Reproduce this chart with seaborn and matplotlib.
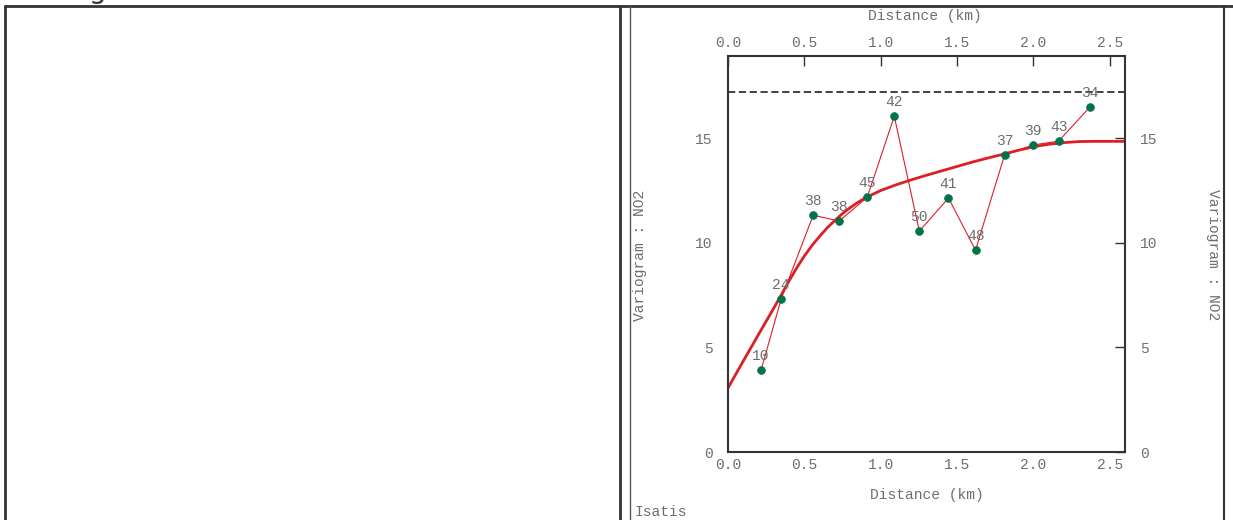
import numpy as np
import pandas as pd
import matplotlib
matplotlib.use("Agg")
import matplotlib.pyplot as plt
from matplotlib.lines import Line2D
import seaborn as sns

dist = [0.217, 0.348, 0.558, 0.728, 0.912, 1.089, 1.253, 1.444, 1.621, 1.811, 1.995, 2.165, 2.369]
gamma = [3.92, 7.31, 11.32, 11.04, 12.18, 16.05, 10.56, 12.14, 9.65, 14.19, 14.67, 14.86, 16.48]
npairs = [10, 24, 38, 38, 45, 42, 50, 41, 48, 37, 39, 43, 34]

# Fitted model curve
model_d = [0.0, 0.1, 0.2, 0.3, 0.35, 0.4, 0.45, 0.5, 0.55, 0.6, 0.65, 0.7, 0.75, 0.8, 0.85, 0.9,
           1.0, 1.1, 1.2, 1.3, 1.4, 1.5, 1.6, 1.7, 1.8, 1.9, 2.0, 2.1, 2.2, 2.3, 2.4, 2.5, 2.6]
model_g = [3.06, 4.35, 5.62, 6.88, 7.52, 8.18, 8.8, 9.37, 9.87, 10.31, 10.72, 11.07, 11.4, 11.68,
           11.93, 12.15, 12.5, 12.77, 13.01, 13.23, 13.44, 13.65, 13.86, 14.05, 14.23, 14.42,
           14.59, 14.71, 14.79, 14.84, 14.85, 14.85, 14.85]

variance = 17.2

xticks = [0.0, 0.5, 1.0, 1.5, 2.0, 2.5]
yticks = [0, 5, 10, 15]

exp_df = pd.DataFrame({"dist": dist, "gamma": gamma, "n": npairs})
mod_df = pd.DataFrame({"dist": model_d, "gamma": model_g})

sns.set_style("white")
plt.rcParams["font.family"] = ["Liberation Mono", "DejaVu Sans Mono"]

W, H = 1233, 520
fig = plt.figure(figsize=(W / 100, H / 100), dpi=100)
ax = fig.add_axes([728 / W, 1 - 452 / H, (1125 - 728) / W, (452 - 56) / H])

txt = "#6e6e6e"
red = "#dc1f26"
green = "#00734a"
dark = "#333333"

sns.lineplot(data=mod_df, x="dist", y="gamma", ax=ax, color=red, linewidth=2.0, sort=False)
sns.lineplot(data=exp_df, x="dist", y="gamma", ax=ax, color=red, linewidth=0.8, sort=False)
sns.scatterplot(data=exp_df, x="dist", y="gamma", ax=ax, color=green, s=32, edgecolor=green, zorder=5)
ax.axhline(variance, color=dark, linestyle=(0, (4, 2)), linewidth=1.3)

for d, g, n in zip(dist, gamma, npairs):
    ax.annotate(str(n), (d, g), xytext=(0, 5), textcoords="offset points",
                ha="center", va="bottom", fontsize=10.5, color=txt)

ax.set_xlim(0, 2.6)
ax.set_ylim(0, 18.93)
ax.set_xticks(xticks)
ax.set_yticks(yticks)
ax.set_xticklabels([f"{t:.1f}" for t in xticks])
ax.set_yticklabels([str(t) for t in yticks])

ax.tick_params(direction="in", length=7, width=1, color=dark, labelsize=10.5, labelcolor=txt,
               top=True, right=True, labeltop=True, labelright=True)
ax.tick_params(axis="x", pad=4)
ax.tick_params(axis="y", pad=11)

for s in ax.spines.values():
    s.set_color(dark)
    s.set_linewidth(1.5)

ax.set_xlabel("Distance (km)", fontsize=10.5, color=txt, labelpad=12)
ax.set_ylabel("")
ax.grid(False)

# top x label and y labels at both sides
fig.text(925 / W, 1 - 16 / H, "Distance (km)", ha="center", va="center", fontsize=10.5, color=txt)
fig.text(640 / W, 1 - 255 / H, "Variogram : NO2", ha="center", va="center", rotation=90,
         fontsize=10.5, color=txt)
fig.text(1213 / W, 1 - 255 / H, "Variogram : NO2", ha="center", va="center", rotation=-90,
         fontsize=10.5, color=txt)
fig.text(634 / W, 1 - 512 / H, "Isatis", ha="left", va="center", fontsize=10.5, color=txt)

# panel frames
def fline(x0, y0, x1, y1, lw, c=dark):
    fig.add_artist(Line2D([x0 / W, x1 / W], [1 - y0 / H, 1 - y1 / H], color=c, linewidth=lw))

fline(5, 6, W, 6, 2.0)
fline(5, 6, 5, H, 2.0)
fline(620, 6, 620, H, 2.0)
fline(630, 6, 630, H, 1.0, "#555555")
fline(1224, 6, 1224, H, 1.5)

# cut-off title glyph at the top of the left panel
fig.text(97 / W, 1 + 2 / H, "g", ha="center", va="baseline", fontsize=20, color=dark,
         family="DejaVu Sans")

fig.savefig("out.png", dpi=100)
